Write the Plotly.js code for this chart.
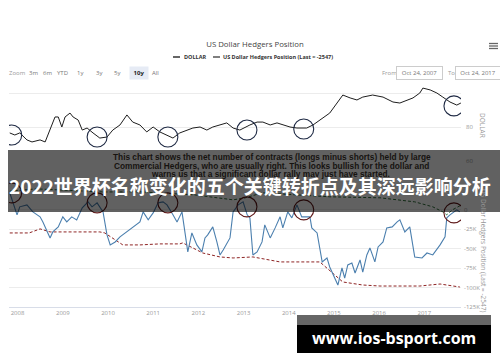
<!DOCTYPE html>
<html><head><meta charset="utf-8">
<script src="https://cdn.plot.ly/plotly-3.0.1.min.js"></script>
<style>html,body{margin:0;padding:0;background:#fff;overflow:hidden}#chart{width:500px;height:362px}</style>
</head><body><div id="chart"></div>
<script>
// ---- data ----
const dollarDates = ['2007-10-30','2007-12-10','2008-01-19','2008-03-17','2008-04-27','2008-07-01','2008-08-11','2008-09-20','2008-10-30','2008-11-25','2008-12-24','2009-01-19','2009-02-28','2009-03-25','2009-05-05','2009-06-07','2009-07-16','2009-09-02','2009-10-27','2009-12-24','2010-02-09','2010-04-08','2010-06-03','2010-07-20','2010-09-16','2010-11-10','2011-01-01','2011-02-24','2011-04-23','2011-06-10','2011-08-04','2011-10-01','2011-11-18','2012-01-15','2012-03-10','2012-04-27','2012-06-24','2012-08-18','2012-10-08','2012-12-02','2013-02-21','2013-04-20','2013-06-06','2013-08-04','2013-09-28','2013-11-14','2014-01-11','2014-03-08','2014-04-27','2014-05-26','2014-07-16','2014-09-09','2014-11-28','2015-01-26','2015-03-14','2015-05-12','2015-07-06','2015-08-22','2015-11-10','2016-02-02','2016-04-22','2016-06-17','2016-08-14','2016-10-01','2016-11-25','2016-12-20','2017-02-17','2017-04-12','2017-05-30','2017-07-27','2017-09-20','2017-10-23'];
const dollarValues = [76.5,75.3,76.5,72.4,71.2,72.4,71.2,78.2,85.9,85.9,80.0,85.9,88.2,85.9,84.1,78.2,79.4,76.5,73.5,74.1,78.2,81.2,87.1,82.9,81.2,77.1,80.0,77.1,75.3,73.5,76.5,78.2,79.4,80.0,78.2,80.0,81.2,82.4,79.4,78.2,81.2,82.9,82.9,81.2,82.4,81.2,80.0,79.4,79.4,79.4,81.2,84.1,88.2,94.1,98.8,97.1,95.9,97.6,98.8,97.6,94.7,94.1,95.9,97.1,100.0,102.9,101.8,100.0,97.6,94.7,92.9,94.1];

const hedgerDates = ['2007-10-30','2007-12-28','2008-01-19','2008-03-17','2008-05-04','2008-07-01','2008-07-24','2008-09-20','2008-10-12','2008-11-25','2009-01-01','2009-02-02','2009-03-14','2009-04-23','2009-06-07','2009-07-24','2009-08-25','2009-10-05','2009-11-22','2009-12-24','2010-01-19','2010-02-28','2010-04-08','2010-06-03','2010-07-20','2010-09-16','2010-10-12','2010-11-22','2011-01-01','2011-02-10','2011-03-22','2011-04-23','2011-06-10','2011-07-13','2011-08-22','2011-09-16','2011-10-08','2011-11-10','2011-12-20','2012-01-30','2012-02-24','2012-03-17','2012-04-27','2012-05-30','2012-06-24','2012-07-20','2012-09-13','2012-10-08','2012-11-18','2012-12-28','2013-01-30','2013-02-21','2013-03-17','2013-04-20','2013-05-30','2013-06-21','2013-08-04','2013-09-13','2013-10-23','2013-11-14','2013-12-24','2014-01-26','2014-03-08','2014-04-16','2014-06-21','2014-07-06','2014-08-18','2014-09-28','2014-11-06','2014-11-28','2015-01-08','2015-02-02','2015-03-07','2015-03-29','2015-04-23','2015-05-26','2015-06-21','2015-07-31','2015-08-22','2015-09-24','2015-10-19','2015-11-28','2015-12-24','2016-02-02','2016-03-03','2016-04-16','2016-05-26','2016-06-17','2016-07-27','2016-09-05','2016-10-15','2016-12-13','2017-01-22','2017-03-10','2017-05-08','2017-06-17','2017-07-01','2017-07-27','2017-09-20','2017-10-15'];
const hedgerValues = [22000,-6400,3900,6400,-2600,-9000,-15500,-36100,-28400,-21900,-9000,-15500,-9000,-12900,2600,10300,3900,9000,-2600,-32200,-45100,-41300,-34800,-28400,-21900,-15500,-2600,-12900,-3900,9000,10300,6400,-6400,-15500,-2600,-32200,-54100,-29700,-45100,-54100,-36100,-32200,-21900,-41300,-58000,-51600,-36100,-2600,6400,10300,-6400,-10300,-58000,-54100,-41300,-19300,-36100,-23200,-9000,-23200,-2600,-10300,6400,-9000,-9000,-23200,-29700,-67000,-61900,-73500,-87700,-96700,-74800,-87700,-70900,-68400,-81300,-64500,-80000,-58000,-49000,-67000,-47700,-41300,-23200,-21900,-15500,-12900,-28400,-21900,-60600,-61900,-55500,-58000,-45100,-34800,-10300,-6400,0,-2547];

const lowerDashDates = ['2007-10-30','2008-04-04','2008-07-01','2008-09-20','2009-04-08','2009-10-27','2009-12-06','2010-02-28','2010-05-01','2010-09-16','2011-02-24','2011-08-04','2011-08-28','2011-11-18','2012-02-06','2012-06-24','2012-10-08','2013-03-17','2013-08-04','2013-10-23','2014-04-01','2014-09-09','2015-03-14','2015-08-22','2016-01-08','2016-11-25','2017-05-08','2017-10-15'];
const lowerDashValues = [-29700,-29700,-24500,-28400,-28400,-28400,-29700,-38700,-45100,-45100,-43800,-43800,-42500,-49000,-55500,-60600,-61900,-60600,-64500,-67000,-67000,-67000,-92800,-96700,-98000,-98000,-95400,-99300];

const upperDashDates = ['2007-10-30','2008-06-01','2009-03-01','2009-12-01','2010-09-16','2011-06-10','2011-12-01','2012-10-08','2013-01-15','2013-06-01','2014-03-08','2014-11-28','2016-01-08','2016-10-15','2017-03-10','2017-05-30','2017-07-01','2017-08-15','2017-10-15'];
const upperDashValues = [24000,27000,25000,23000,23200,20600,19300,12900,15500,21900,19300,16800,15500,10300,3900,-2600,-6400,0,5200];

const circleDates = ['2007-11-15','2009-10-05','2011-04-30','2013-01-28','2014-05-02','2017-08-28'];
const circleDollar = [75.3,74.1,74.1,78.2,78.8,92.4];
const circleHedgers = [21900,9000,9000,3900,0,-3900];

const yearLabels = ['2008','2009','2010','2011','2012','2013','2014','2015','2016','2017'];
const dollarTickVals = [60,80,100];
const dollarTickText = ['60','80',''];
const hedgerTickVals = [-125000,-100000,-75000,-50000,-25000,0];
const hedgerTickText = ['-125K','-100K','-75K','-50K','-25K','0'];

// ---- layout helpers (pixel -> paper) ----
const L = 9, R = 461, T = 84, B = 307;
const px = x => (x - L) / (R - L);
const py = y => (B - y) / (B - T);
const UI = 'Open Sans, Liberation Sans, sans-serif';

const traces = [
  {x: dollarDates, y: dollarValues, type: 'scatter', mode: 'lines', yaxis: 'y', name: 'DOLLAR',
   line: {color: '#1e1e1e', width: 1}},
  {x: lowerDashDates, y: lowerDashValues, type: 'scatter', mode: 'lines', yaxis: 'y2',
   line: {color: '#8e2424', width: 1, dash: '3px,2px'}},
  {x: upperDashDates, y: upperDashValues, type: 'scatter', mode: 'lines', yaxis: 'y2',
   line: {color: '#2f6f3a', width: 1, dash: '3px,2px'}},
  {x: hedgerDates, y: hedgerValues, type: 'scatter', mode: 'lines', yaxis: 'y2', name: 'US Dollar Hedgers Position',
   line: {color: '#4b7fae', width: 1.1}}
];

const shapes = [];
circleDates.forEach((d, i) => {
  shapes.push({type: 'circle', xref: 'x', yref: 'y', xsizemode: 'pixel', ysizemode: 'pixel',
    xanchor: d, yanchor: circleDollar[i], x0: -10, x1: 10, y0: -10, y1: 10,
    line: {color: '#1f2a44', width: 1.1}, layer: 'above'});
  shapes.push({type: 'circle', xref: 'x', yref: 'y2', xsizemode: 'pixel', ysizemode: 'pixel',
    xanchor: d, yanchor: circleHedgers[i], x0: -10, x1: 10, y0: -10, y1: 10,
    line: {color: '#5e1818', width: 1.1}, layer: 'above'});
});
// dark translucent band
shapes.push({type: 'rect', xref: 'paper', yref: 'paper', x0: px(8), x1: px(500), y0: py(212), y1: py(150),
  fillcolor: 'rgba(0,0,0,0.62)', line: {width: 0}, layer: 'above'});
// watermark boxes
shapes.push({type: 'rect', xref: 'paper', yref: 'paper', x0: px(297), x1: px(491), y0: py(325), y1: py(315),
  fillcolor: 'rgba(0,0,0,0.6)', line: {width: 0}, layer: 'above'});
shapes.push({type: 'rect', xref: 'paper', yref: 'paper', x0: px(297), x1: px(491), y0: py(353), y1: py(325),
  fillcolor: '#000', line: {width: 0}, layer: 'above'});
// legend line marks
shapes.push({type: 'line', xref: 'paper', yref: 'paper', x0: px(173), x1: px(180), y0: py(57), y1: py(57),
  line: {color: '#333', width: 1.5}});
shapes.push({type: 'line', xref: 'paper', yref: 'paper', x0: px(213), x1: px(220), y0: py(57), y1: py(57),
  line: {color: '#555', width: 1.5}});
// menu icon
[43.5, 46, 48.5].forEach(yy => shapes.push({type: 'line', xref: 'paper', yref: 'paper',
  x0: px(489), x1: px(498), y0: py(yy), y1: py(yy), line: {color: '#666', width: 1.3}}));

const A = [];
function ann(text, x, y, o) {
  A.push(Object.assign({text: text, xref: 'paper', yref: 'paper', x: px(x), y: py(y), showarrow: false,
    xanchor: 'left', yanchor: 'middle', font: {family: UI, size: 6, color: '#666'}}, o || {}));
}
ann('<b>DOLLAR</b>', 182, 57, {font: {family: UI, size: 5.5, color: '#333'}});
ann('<b>US Dollar Hedgers Position (Last = -2547)</b>', 221, 57, {font: {family: UI, size: 5.5, color: '#333'}});
ann('Zoom', 7, 73, {font: {family: UI, size: 6, color: '#999'}});
[['3m', 33], ['6m', 47], ['YTD', 62], ['1y', 80], ['3y', 99], ['5y', 116.5], ['All', 155]].forEach(b =>
  ann(b[0], b[1], 73, {xanchor: 'center', font: {family: UI, size: 6, color: '#777'}}));
ann('<b>10y</b>', 138.5, 73, {xanchor: 'center', bgcolor: '#e6ebf5', width: 16, height: 10,
  font: {family: UI, size: 6, color: '#222'}});
ann('From', 380, 73, {font: {family: UI, size: 6, color: '#999'}});
ann('Oct 24, 2007', 419, 73, {xanchor: 'center', width: 43, height: 10, bordercolor: '#ccc', borderwidth: 1,
  borderpad: 1, bgcolor: '#fff', font: {family: UI, size: 6, color: '#777'}});
ann('To', 446, 73, {font: {family: UI, size: 6, color: '#999'}});
ann('Oct 24, 2017', 477.5, 73, {xanchor: 'center', width: 42, height: 10, bordercolor: '#ccc', borderwidth: 1,
  borderpad: 1, bgcolor: '#fff', font: {family: UI, size: 6, color: '#777'}});
ann('DOLLAR', 483, 125, {xanchor: 'center', textangle: 90, font: {family: UI, size: 6.5, color: '#999'}});
ann('US Dollar Hedgers Position (Last = -2547)', 483, 250, {xanchor: 'center', textangle: 90,
  font: {family: UI, size: 6.5, color: '#999'}});
const noteFont = {family: 'Liberation Sans, Arial, sans-serif', size: 8.3, color: '#161310'};
ann('<b>This chart shows the net number of contracts (longs minus shorts) held by large</b>', 271.5, 157, {xanchor: 'center', font: noteFont});
ann('<b>Commercial Hedgers, who are usually right. This looks bullish for the dollar and</b>', 271.5, 165.5, {xanchor: 'center', font: noteFont});
ann('<b>warns us that a significant dollar rally may just have started.</b>', 270, 173.5, {xanchor: 'center', font: noteFont});
ann('<b>2022世界杯名称变化的五个关键转折点及其深远影响分析</b>', 250, 185, {xanchor: 'center',
  font: {family: 'Noto Sans CJK SC, sans-serif', size: 19, color: '#fff'}});
ann('<b>www.ios-bsport.com</b>', 394, 338, {xanchor: 'center',
  font: {family: 'Open Sans, Noto Sans, sans-serif', size: 16, color: '#fff'}});

const layout = {
  width: 500, height: 362,
  margin: {l: L, r: 500 - R, t: T, b: 362 - B},
  paper_bgcolor: '#fff', plot_bgcolor: '#fff',
  showlegend: false,
  font: {family: UI, size: 6, color: '#999'},
  title: {text: 'US Dollar Hedgers Position', x: 0.51, xanchor: 'center', xref: 'container',
    y: 1 - 44 / 362, yanchor: 'middle', yref: 'container', font: {family: UI, size: 7.8, color: '#444'}},
  xaxis: {type: 'date', range: ['2007-10-24', '2017-10-24'], anchor: 'y2',
    tickvals: yearLabels.map(y => y + '-01-01'), ticktext: yearLabels,
    tickfont: {family: UI, size: 6, color: '#999'}, showgrid: false, zeroline: false,
    showline: true, linecolor: '#d8dde8', linewidth: 1, ticks: ''},
  yaxis: {domain: [(B - 161) / (B - T), 1], range: [60, 60 + 77 / 1.7], side: 'right', anchor: 'x',
    tickvals: dollarTickVals, ticktext: dollarTickText, tickfont: {family: UI, size: 6, color: '#999'},
    gridcolor: '#ececec', gridwidth: 1, zeroline: false, showline: false, ticks: '', ticklabelstandoff: 4},
  yaxis2: {domain: [0, (B - 171) / (B - T)], range: [-125000, 50000], side: 'right', anchor: 'x',
    tickvals: hedgerTickVals, ticktext: hedgerTickText, tickfont: {family: UI, size: 6, color: '#999'},
    gridcolor: '#ececec', gridwidth: 1, zeroline: false, showline: false, ticks: '', ticklabelstandoff: 2},
  shapes: shapes,
  annotations: A
};

Plotly.newPlot('chart', traces, layout, {displayModeBar: false, staticPlot: true});
</script>
</body></html>
